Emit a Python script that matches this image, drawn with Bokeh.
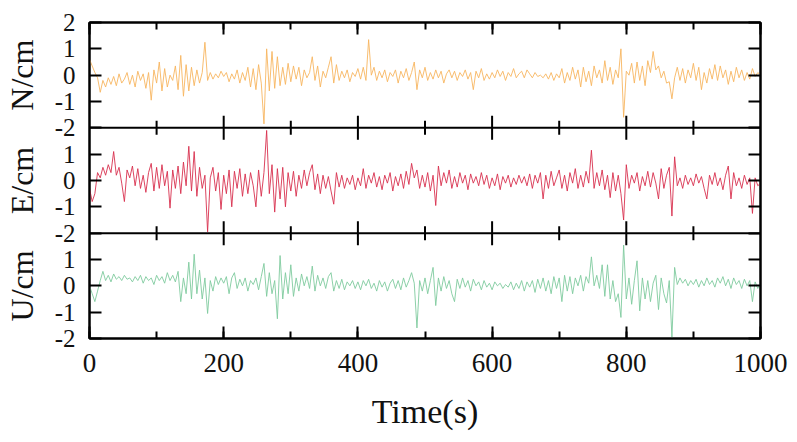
import math

from bokeh.plotting import figure
from bokeh.layouts import row
from bokeh.core.properties import value
from bokeh.models import (Range1d, LinearAxis, FixedTicker, SingleIntervalTicker,
                          Span, CustomJSTickFormatter)
from bokeh.embed import file_html
from bokeh.resources import INLINE

# Sampling instants (s)
time_s = list(range(0, 1001, 4))

# North component residuals (cm)
north_cm = [
    0.6, 0.35, 0.1, -0.1, -0.65, -0.2, -0.45, -0.1, -0.35, -0.05, -0.4, 0.05, -0.3, -0.15, 0.1, -0.35, 0.0, -0.45, 0.15, -0.2, 0.05, -0.5, 0.1, -0.95, 0.2,
    -0.3, 0.5, -0.6, 0.25, -0.45, 0.0, -0.2, 0.35, -0.55, 0.75, -0.8, 0.4, -0.6, 0.3, -0.4, 0.2, -0.3, 0.1, 1.25, -0.2, 0.1, -0.15, 0.05, -0.1, 0.15,
    -0.05, 0.1, -0.25, 0.05, -0.15, 0.2, -0.3, 0.1, -0.2, 0.3, -0.45, 0.25, -0.55, 0.4, -0.3, -1.85, 1.0, -0.6, 0.9, -0.5, 0.7, -0.4, 0.3, -0.35, 0.45,
    -0.25, 0.35, -0.15, 0.3, -0.4, 0.2, -0.1, 0.1, 0.7, -0.2, 0.35, -0.45, 0.15, -0.1, 0.3, 0.7, -0.3, 0.4, -0.2, 0.15, -0.1, 0.2, -0.25, 0.1, -0.05,
    0.25, -0.15, 0.3, -0.2, 1.35, 0.0, 0.3, -0.2, 0.15, -0.1, 0.2, -0.25, 0.1, -0.05, 0.2, -0.3, 0.15, -0.1, 0.25, -0.2, 0.1, 0.5, -0.55, 0.2, -0.1,
    0.3, -0.2, 0.1, -0.15, 0.2, -0.1, 0.15, -0.3, 0.05, 0.2, -0.1, 0.15, -0.2, 0.1, -0.05, 0.2, -0.15, 0.1, -0.55, 0.15, -0.1, 0.25, -0.2, 0.05, -0.15,
    0.1, -0.1, 0.2, -0.05, 0.15, -0.2, 0.1, -0.05, 0.25, -0.1, 0.05, 0.15, -0.1, 0.2, 0.05, -0.1, 0.1, -0.05, 0.0, -0.1, 0.05, -0.15, 0.1, -0.2, 0.05,
    -0.1, 0.25, -0.3, 0.1, -0.2, 0.3, -0.15, 0.2, -0.45, 0.3, -0.25, 0.15, -0.4, 0.35, -0.1, 0.2, -0.3, 0.55, -0.2, 0.3, -0.35, 0.2, -0.1, 1.0, -1.6,
    0.15, 0.0, 0.45, -0.3, 0.5, -0.2, 0.35, -0.4, 0.55, 0.1, 0.9, 0.2, 0.35, -0.1, 0.15, -0.3, -0.25, -0.9, -0.1, 0.3, -0.2, 0.25, -0.3, 0.2, -0.1,
    0.45, -0.2, 0.3, -0.55, 0.1, -0.3, 0.25, -0.15, 0.4, -0.2, 0.35, -0.1, 0.2, -0.35, 0.15, -0.25, 0.3, -0.1, 0.2, -0.2, 0.1, -0.15, 0.25, -0.05, 0.1,
    0.0,
]

# East component residuals (cm)
east_cm = [
    -0.3, -0.8, -0.5, 0.3, 0.1, 0.5, 0.2, 0.6, 0.3, 1.1, 0.2, 0.5, -0.1, -0.8, 0.4, 0.1, 0.55, -0.2, 0.45, -0.3, 0.2, -0.45, 0.3, 0.65, -0.4,
    0.5, -0.3, 0.6, -0.2, 0.35, -1.05, 0.4, -0.3, 0.55, -0.5, 0.7, -0.2, 1.3, -0.4, 1.1, -0.6, 0.5, -0.3, 0.2, -1.95, 0.1, 0.5, -0.4, 0.3, -1.1,
    0.2, -0.5, 0.4, -1.0, 0.35, -0.3, 0.45, -0.6, 0.25, -0.5, 0.3, -0.2, -1.0, 0.4, -0.6, 0.3, 1.9, -0.5, 0.6, -1.2, 0.45, -0.7, 0.5, -1.0, 0.3,
    -0.4, 0.35, -0.6, 0.2, -0.3, 0.4, -0.2, 0.3, 0.6, -0.35, 0.25, -0.5, 0.2, -0.3, 0.15, -0.4, -0.9, 0.3, -0.25, 0.2, -0.3, 0.1, -0.15, 0.2, -0.35,
    0.1, -0.2, 0.45, -0.3, 0.2, -0.1, 0.3, -0.25, 0.15, -0.35, 0.2, -0.1, 0.3, -0.4, 0.15, -0.2, 0.25, -0.3, 0.35, -0.15, 0.65, 0.1, 0.4, -0.3, 0.2,
    -0.25, 0.3, -0.4, 0.2, -0.95, 0.55, -0.2, 0.3, -0.1, 0.4, -0.3, 0.15, -0.25, 0.3, -0.1, 0.2, -0.35, 0.25, -0.1, 0.15, -0.2, 0.3, -0.15, 0.2, -0.3,
    0.1, -0.2, 0.25, -0.35, 0.15, -0.1, 0.2, -0.25, 0.1, -0.15, 0.2, -0.1, 0.15, -0.2, 0.25, -0.3, 0.2, -0.1, 0.3, -0.7, 0.2, -0.3, 0.35, -0.2, 0.1,
    0.4, -0.3, 0.2, -0.4, 0.3, -0.1, 0.45, -0.3, 0.2, -0.25, 0.35, -0.1, 1.15, -0.3, 0.3, -0.2, 0.4, -0.35, 0.2, -0.65, 0.3, -0.4, 0.2, -0.5, -1.5,
    0.6, -0.3, 0.2, -0.1, 0.3, -0.4, 0.15, -0.2, 0.35, -0.25, 0.3, -0.1, -0.7, 0.45, -0.3, 0.2, 0.5, -1.35, 0.9, -0.2, 0.1, -0.3, 0.2, -0.15, 0.1,
    -0.2, 0.25, -0.1, 0.15, -0.3, -0.7, 0.2, -0.15, 0.3, -0.2, 0.1, -0.35, 0.2, 0.55, -0.7, 0.3, -0.2, 0.1, -0.3, 0.2, -0.15, 0.1, -1.25, 0.1, -0.2,
    -0.1,
]

# Up component residuals (cm)
up_cm = [
    0.0, -0.3, -0.6, -0.2, 0.2, 0.55, 0.2, 0.4, 0.15, 0.45, 0.25, 0.35, 0.2, 0.4, 0.25, 0.3, 0.15, 0.35, 0.2, 0.4, 0.1, 0.35, 0.2, 0.3, 0.05,
    0.4, 0.2, 0.35, 0.1, 0.5, 0.2, 0.4, 0.15, 0.55, -0.6, 0.3, -0.3, 0.9, -0.5, 1.2, -0.3, 0.6, -0.5, 0.3, -1.05, 0.2, -0.2, 0.35, 0.05, 0.3,
    0.1, 0.35, -0.3, 0.3, 0.5, -0.1, 0.25, 0.0, 0.3, -0.2, 0.2, 0.05, 0.3, -0.15, 0.35, 0.85, -0.4, 0.5, -0.3, 0.2, -1.25, 1.15, -0.5, 0.5, -0.3,
    0.8, -0.4, 0.3, -0.2, 0.45, 0.0, 0.35, -0.1, 0.75, -0.2, 0.4, 0.0, 0.3, -0.1, 0.35, 0.5, -0.2, 0.2, -0.1, 0.25, -0.15, 0.15, 0.0, 0.2, -0.1,
    0.15, -0.15, 0.2, 0.0, 0.25, -0.1, 0.1, -0.2, 0.2, -0.05, 0.15, -0.2, 0.1, 0.25, -0.1, 0.2, -0.15, 0.3, -0.05, 0.2, 0.5, 0.1, -1.6, 0.2, -0.2,
    0.3, -0.3, 0.2, 0.7, -0.75, 0.3, -0.2, 0.35, -0.1, 0.2, -0.3, -0.6, 0.25, -0.1, 0.3, -0.05, 0.2, -0.2, 0.25, 0.0, 0.15, -0.15, 0.2, -0.05, 0.1,
    -0.15, 0.15, 0.0, 0.1, -0.1, 0.05, -0.05, 0.15, -0.15, 0.1, -0.1, 0.2, -0.2, 0.15, -0.05, 0.2, -0.25, 0.25, -0.1, 0.3, -0.2, 0.2, -0.3, 0.35, -0.1,
    0.3, -0.6, 0.4, -0.2, 0.35, -0.3, 0.3, 0.0, 0.4, -0.2, 0.35, 0.1, 1.1, 0.0, 0.4, -0.1, 0.8, -0.4, 0.8, -0.5, 0.2, -0.6, -0.3, -1.2, 1.55,
    -0.5, 0.3, -0.7, 0.2, 0.95, -0.95, 0.3, -0.5, 0.2, -0.6, 0.1, 0.4, -0.9, 0.3, -0.3, -0.65, 0.2, -1.95, 0.7, 0.05, 0.3, 0.1, 0.25, 0.0, 0.2,
    0.05, 0.25, -0.05, 0.2, 0.0, 0.3, 0.05, 0.2, -0.05, 0.3, 0.1, 0.35, 0.0, 0.25, -0.1, 0.3, 0.05, 0.2, -0.1, 0.25, 0.0, 0.2, -0.6, 0.15, -0.1,
    0.1,
]

series = [north_cm, east_cm, up_cm]
panel_titles = ["N/cm", "E/cm", "U/cm"]
panel_colors = ["#F7B560", "#D8304E", "#7FCB9E"]
panel_keys = ["north", "east", "up"]

panel_span = 4          # each panel covers -2 .. 2 cm
n_panels = 3
x_major = [0, 200, 400, 600, 800, 1000]
x_minor = [100, 300, 500, 700, 900]

SERIF = "Liberation Serif"
INK = "#111111"
TOP, BOTTOM = 22, 104
TITLE_W = 42
blank = CustomJSTickFormatter(code="return ''")

p = figure(width=797 - TITLE_W, height=442, output_backend="svg", toolbar_location=None,
           x_range=Range1d(0, 1000), y_range=Range1d(0, panel_span * n_panels),
           min_border_left=89 - TITLE_W, min_border_right=37,
           min_border_top=TOP, min_border_bottom=BOTTOM)
p.grid.visible = False
p.background_fill_color = "white"
p.border_fill_color = "white"
p.outline_line_color = "black"
p.outline_line_width = 2

# One y-range per panel, stacked top to bottom inside the shared frame
for k, (vals, key, color) in enumerate(zip(series, panel_keys, panel_colors)):
    start = -2 - panel_span * (n_panels - 1 - k)
    p.extra_y_ranges[key] = Range1d(start, start + panel_span * n_panels)
    p.line(time_s, vals, y_range_name=key, line_color=color, line_width=0.9)

# Stacked tick positions on the shared left/right axes and their panel-local labels
stack_ticks = list(range(panel_span * n_panels + 1))
tick_labels = {}
for t in stack_ticks:
    local = (t % panel_span) - 2
    if t == panel_span * n_panels:
        local = 2
    tick_labels[float(t)] = str(local)

yax = p.yaxis[0]
yax.ticker = FixedTicker(ticks=stack_ticks)
yax.major_label_overrides = tick_labels
yax.major_label_text_font = SERIF
yax.major_label_text_font_size = "25px"
yax.major_label_text_color = INK
yax.major_label_standoff = 14
yax.major_tick_in = 12
yax.major_tick_out = 0
yax.minor_tick_line_color = None
yax.axis_line_width = 2
yax.major_tick_line_width = 2

right_ax = LinearAxis(ticker=FixedTicker(ticks=stack_ticks), formatter=blank,
                      major_tick_in=12, major_tick_out=0, minor_tick_line_color=None,
                      axis_line_width=2, major_tick_line_width=2)
p.add_layout(right_ax, "right")

xax = p.xaxis[0]
xax.ticker = SingleIntervalTicker(interval=200, num_minor_ticks=2)
xax.axis_label = "Time(s)"
xax.axis_label_text_font = SERIF
xax.axis_label_text_font_style = "normal"
xax.axis_label_text_font_size = "34px"
xax.axis_label_text_color = INK
xax.axis_label_standoff = 18
xax.major_label_text_font = SERIF
xax.major_label_text_font_size = "27px"
xax.major_label_text_color = INK
xax.major_label_standoff = 15
xax.major_tick_in = 12
xax.major_tick_out = 0
xax.minor_tick_in = 7
xax.minor_tick_out = 0
xax.axis_line_width = 2
xax.major_tick_line_width = 2
xax.minor_tick_line_width = 2

top_ax = LinearAxis(ticker=SingleIntervalTicker(interval=200, num_minor_ticks=2),
                    formatter=blank,
                    major_tick_in=12, major_tick_out=0, minor_tick_in=7, minor_tick_out=0,
                    axis_line_width=2, major_tick_line_width=2, minor_tick_line_width=2)
p.add_layout(top_ax, "above")

# Panel separators with time ticks pointing into both neighbouring panels
for b in range(1, n_panels):
    level = panel_span * b
    p.add_layout(Span(location=level, dimension="width", line_color="black", line_width=2))
    p.scatter(x_major[1:-1], [level] * (len(x_major) - 2), marker="dash", angle=math.pi / 2,
              size=24, line_color="black", line_width=2)
    p.scatter(x_minor, [level] * len(x_minor), marker="dash", angle=math.pi / 2,
              size=14, line_color="black", line_width=2)

# Narrow strip on the left carrying the component names, aligned with the panels
names = figure(width=TITLE_W, height=442, output_backend="svg", toolbar_location=None,
               x_range=Range1d(0, 1), y_range=Range1d(0, panel_span * n_panels),
               min_border_left=0, min_border_right=0,
               min_border_top=TOP, min_border_bottom=BOTTOM)
names.axis.visible = False
names.grid.visible = False
names.outline_line_color = None
names.background_fill_color = "white"
names.border_fill_color = "white"
title_y = [panel_span * (n_panels - 1 - k) + panel_span / 2 for k in range(n_panels)]
names.text(x=[0.5] * n_panels, y=title_y, text=panel_titles, angle=math.pi / 2,
           text_align="center", text_baseline="middle",
           text_font=value(SERIF), text_font_size="32px", text_color=INK)

layout = row(names, p, spacing=0)
open("out.html", "w").write(file_html(layout, INLINE))
